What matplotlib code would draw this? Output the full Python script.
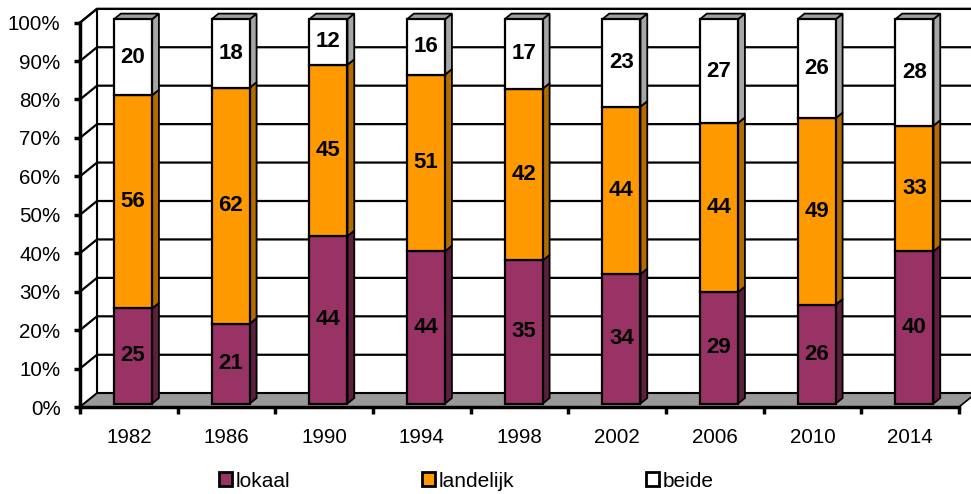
import matplotlib.pyplot as plt
import numpy as np
from matplotlib.patches import Polygon, Patch

plt.rcParams['font.family'] = ['Liberation Sans', 'DejaVu Sans']

years = ['1982', '1986', '1990', '1994', '1998', '2002', '2006', '2010', '2014']
lokaal = [25, 21, 44, 44, 35, 34, 29, 26, 40]
landelijk = [56, 62, 45, 51, 42, 44, 44, 49, 33]
beide = [20, 18, 12, 16, 17, 23, 27, 26, 28]
series_names = ['lokaal', 'landelijk', 'beide']

front_cols = ['#993366', '#FF9900', '#FFFFFF']
side_cols = ['#5C1F3D', '#B36B00', '#A6A6A6']
top_col = '#A0A0A0'
floor_col = '#999999'
fs = 14.8

fig = plt.figure(figsize=(9.71, 4.94), dpi=100)
ax = fig.add_axes([80/971, 87/494, 879/971, 384.4/494])
ax.set_xlim(-0.5, 8.5)
ax.set_ylim(0, 100)
ax.patch.set_visible(False)

# depth of the 3d box in data units
DX = 0.174
DY = 3.59
d0, d1 = 0.25, 0.65   # bar front / back depth
w = 0.39
n = len(years)

# walls and floor
back = Polygon([(-0.5+DX, DY), (8.5+DX, DY), (8.5+DX, 100+DY), (-0.5+DX, 100+DY)],
               closed=True, fc='white', ec='black', lw=1.5, zorder=0.2, clip_on=False)
ax.add_patch(back)
side = Polygon([(-0.5, 0), (-0.5+DX, DY), (-0.5+DX, 100+DY), (-0.5, 100)],
               closed=True, fc='white', ec='black', lw=1.5, zorder=0.3, clip_on=False)
ax.add_patch(side)
for g in range(10, 101, 10):
    ax.plot([-0.5, -0.5+DX, 8.5+DX], [g, g+DY, g+DY], color='black', lw=1.6,
            zorder=0.4, clip_on=False)
floor = Polygon([(-0.5, 0), (8.5, 0), (8.5+DX, DY), (-0.5+DX, DY)],
                closed=True, fc=floor_col, ec='black', lw=1.2, zorder=0.5, clip_on=False)
ax.add_patch(floor)

# stacked, normalized to 100%
vals = np.array([lokaal, landelijk, beide], dtype=float)
pct = vals / vals.sum(axis=0) * 100
x = np.arange(n)
bottom = np.zeros(n)
handles = []
for k in range(3):
    h = pct[k]
    ax.bar(x + d0*DX, h, bottom=bottom + d0*DY, width=w, color=front_cols[k],
           edgecolor='black', linewidth=1.6, zorder=3, clip_on=False)
    handles.append(Patch(fc=front_cols[k], ec='black', lw=2, label=series_names[k]))
    for i in range(n):
        xr = i + w/2
        y0, y1 = bottom[i], bottom[i] + h[i]
        ax.add_patch(Polygon([(xr+d0*DX, y0+d0*DY), (xr+d1*DX, y0+d1*DY),
                              (xr+d1*DX, y1+d1*DY), (xr+d0*DX, y1+d0*DY)],
                             closed=True, fc=side_cols[k], ec='black', lw=1.3,
                             zorder=2.9, clip_on=False))
        ax.text(i + d0*DX, (y0 + y1)/2 + d0*DY, str(int(vals[k][i])), ha='center',
                va='center', fontsize=16, fontweight='bold', zorder=5)
    bottom = bottom + h

for i in range(n):
    xl, xr = i - w/2, i + w/2
    ax.add_patch(Polygon([(xl+d0*DX, 100+d0*DY), (xr+d0*DX, 100+d0*DY),
                          (xr+d1*DX, 100+d1*DY), (xl+d1*DX, 100+d1*DY)],
                         closed=True, fc=top_col, ec='black', lw=1.3, zorder=2.9,
                         clip_on=False))

# axes styling
for s in ['top', 'right']:
    ax.spines[s].set_visible(False)
for s in ['left', 'bottom']:
    ax.spines[s].set_linewidth(2.5)
    ax.spines[s].set_zorder(6)
ax.set_yticks(range(0, 101, 10))
ax.set_yticklabels([f'{v}%' for v in range(0, 101, 10)])
ax.tick_params(axis='y', length=4, width=2.5, pad=10, labelsize=fs)
ax.set_xticks(np.arange(-0.5, n, 1))
ax.set_xticklabels([])
ax.tick_params(axis='x', which='major', length=5, width=2.5)
ax.set_xticks(x, minor=True)
ax.set_xticklabels(years, minor=True)
ax.tick_params(axis='x', which='minor', length=0, pad=15, labelsize=fs)

fig.legend(handles=handles, ncol=3, loc='center left',
           bbox_to_anchor=(219/971, 1 - 481/494), borderaxespad=0, borderpad=0,
           frameon=False, fontsize=15, handlelength=0.62, handleheight=0.62,
           handletextpad=0.2, columnspacing=6.3)

fig.savefig('out.png', dpi=100)
